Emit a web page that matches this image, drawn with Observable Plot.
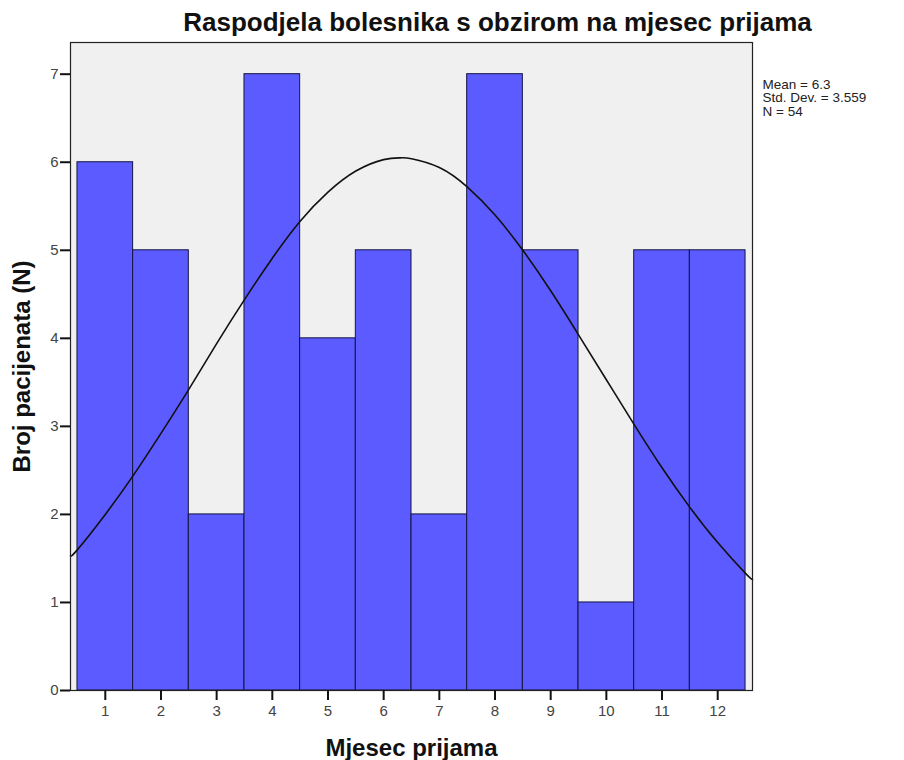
<!DOCTYPE html>
<html>
<head>
<meta charset="utf-8">
<script src="https://cdn.jsdelivr.net/npm/d3@7"></script>
<script src="https://cdn.jsdelivr.net/npm/@observablehq/plot@0.6"></script>
<style>
  body { margin: 0; background: #fff; }
  #chart svg { display: block; }
</style>
</head>
<body>
<div id="chart"></div>
<script>
const months = [1, 2, 3, 4, 5, 6, 7, 8, 9, 10, 11, 12];
const counts = [6, 5, 2, 7, 4, 5, 2, 7, 5, 1, 5, 5];
const yTicks = [0, 1, 2, 3, 4, 5, 6, 7];
const curveX = [0.375, 0.5, 1, 1.5, 2, 2.5, 3, 3.5, 4, 4.5, 5, 5.5, 6, 6.3, 6.5, 7, 7.5, 8, 8.5, 9, 9.5, 10, 10.5, 11, 11.5, 12, 12.5, 12.625];
const curveY = [1.53, 1.60, 2.00, 2.44, 2.92, 3.42, 3.94, 4.44, 4.91, 5.33, 5.66, 5.90, 6.03, 6.05, 6.04, 5.94, 5.72, 5.40, 5.00, 4.54, 4.04, 3.53, 3.02, 2.53, 2.08, 1.68, 1.33, 1.26];
const title = "Raspodjela bolesnika s obzirom na mjesec prijama";
const statsLines = ["Mean = 6.3", "Std. Dev. = 3.559", "N = 54"];
const xLabel = "Mjesec prijama";
const yLabel = "Broj pacijenata (N)";

const bars = months.map((m, i) => ({month: m, count: counts[i]}));
const curve = curveX.map((x, i) => ({x, y: curveY[i]}));

const font = "'Liberation Sans', Arial, sans-serif";

const statsMarks = statsLines.map((line, i) =>
  Plot.text([line], {frameAnchor: "top-right", dx: 10, dy: 42 + i * 13.5, textAnchor: "start", lineAnchor: "middle", text: d => d, fontSize: 13.5, fill: "#222"})
);

const chart = Plot.plot({
  width: 904,
  height: 760,
  marginLeft: 70,
  marginRight: 152,
  marginTop: 42,
  marginBottom: 70,
  style: {fontFamily: font, fontSize: "13px", color: "#333", background: "#fff"},
  x: {domain: [0.375, 12.625], label: null},
  y: {domain: [0, 7.36], label: null},
  marks: [
    Plot.frame({fill: "#f0f0f0", stroke: "none"}),
    Plot.rectY(bars, {x1: d => d.month - 0.5, x2: d => d.month + 0.5, y: "count", fill: "#5b5bff", stroke: "#151540", strokeWidth: 1}),
    Plot.line(curve, {x: "x", y: "y", stroke: "#111", strokeWidth: 1.6, curve: "natural"}),
    Plot.frame({stroke: "#222", strokeWidth: 1.2}),
    Plot.axisY({ticks: yTicks, tickSize: 10, tickPadding: 2, stroke: "#111", strokeWidth: 2, fill: "#444", fontSize: 15, label: null, tickFormat: d => d}),
    Plot.axisX({ticks: months, tickSize: 10, tickPadding: 5, stroke: "#111", strokeWidth: 2, fill: "#444", fontSize: 15, label: null, tickFormat: d => d}),
    Plot.text([title], {frameAnchor: "top", dx: 86, dy: -20, lineAnchor: "middle", text: d => d, fontSize: 26, fontWeight: "bold", fill: "#111"}),
    ...statsMarks,
    Plot.text([xLabel], {frameAnchor: "bottom", dy: 58, lineAnchor: "middle", text: d => d, fontSize: 24, fontWeight: "bold", fill: "#111"}),
    Plot.text([yLabel], {frameAnchor: "left", dx: -48, rotate: -90, textAnchor: "middle", lineAnchor: "middle", text: d => d, fontSize: 24, fontWeight: "bold", fill: "#111"})
  ]
});
document.getElementById("chart").append(chart);
</script>
</body>
</html>
